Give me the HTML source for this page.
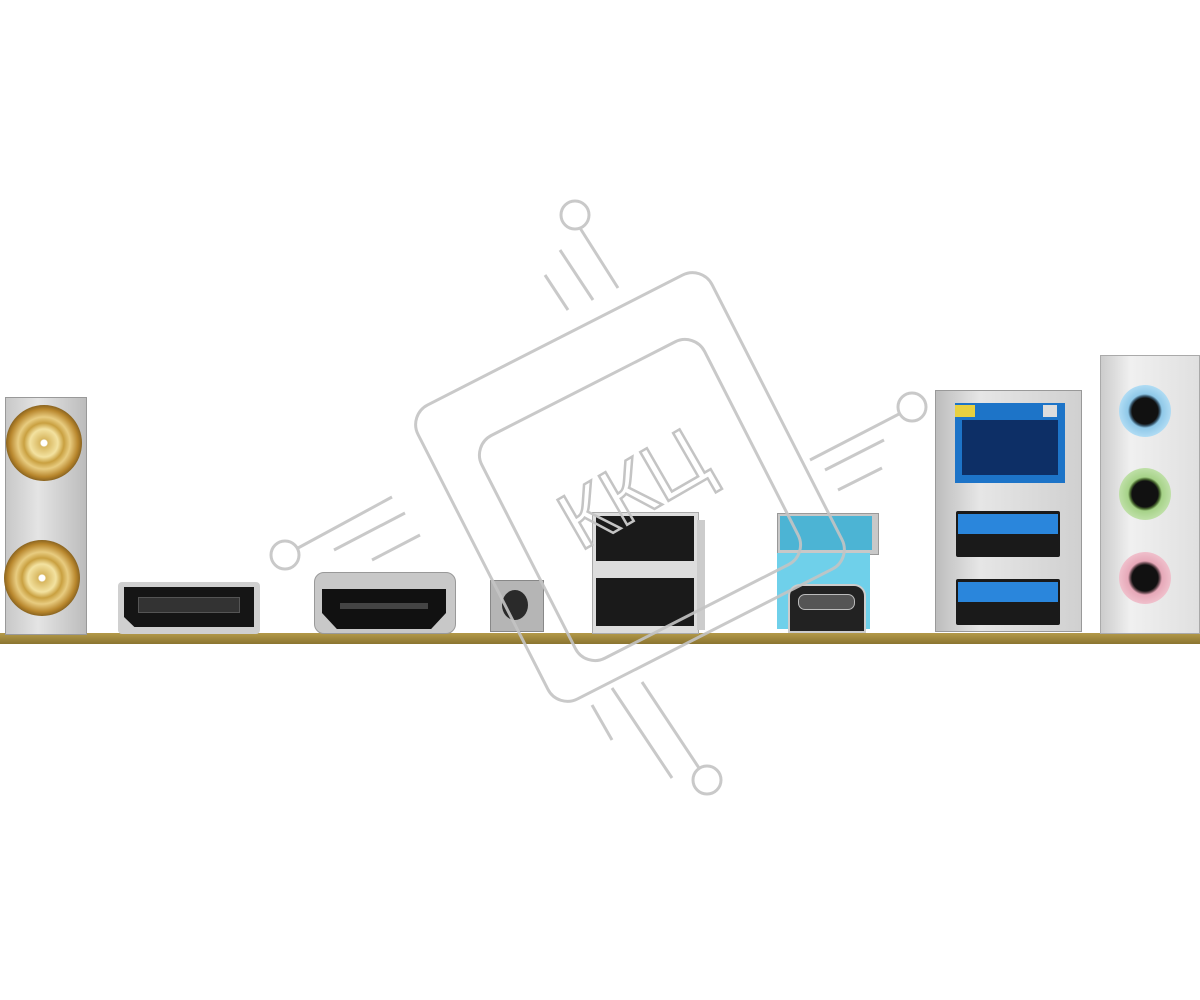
<!DOCTYPE html>
<html><head><meta charset="utf-8"><style>
body{margin:0;width:1200px;height:1000px;background:#fff;position:relative;overflow:hidden;font-family:"Liberation Sans",sans-serif}
.a{position:absolute}
</style></head><body>
<!-- board strip -->
<div class="a" style="left:0;top:633px;width:1200px;height:11px;background:linear-gradient(#b49a4a,#8a7430)"></div>
<!-- antenna bracket -->
<div class="a" style="left:5px;top:397px;width:80px;height:236px;background:linear-gradient(90deg,#c8c8c8,#e4e4e4 40%,#bcbcbc);border:1px solid #999"></div>
<div class="a" style="left:6px;top:405px;width:76px;height:76px;border-radius:50%;background:radial-gradient(circle,#fff 0 3px,#d8b760 4px,#f3e2a0 14px,#c9a040 20px,#e8cc80 26px,#b8862c 34px,#8a6420 38px)"></div>
<div class="a" style="left:4px;top:540px;width:76px;height:76px;border-radius:50%;background:radial-gradient(circle,#fff 0 3px,#d8b760 4px,#f3e2a0 14px,#c9a040 20px,#e8cc80 26px,#b8862c 34px,#8a6420 38px)"></div>
<!-- DisplayPort -->
<div class="a" style="left:118px;top:582px;width:142px;height:52px;background:#d0d0d0;border-radius:4px"></div>
<div class="a" style="left:124px;top:587px;width:130px;height:40px;background:#151515;clip-path:polygon(0 0,100% 0,100% 100%,8% 100%,0 75%)"></div>
<div class="a" style="left:138px;top:597px;width:100px;height:14px;background:#333;border:1px solid #555"></div>
<!-- HDMI -->
<div class="a" style="left:314px;top:572px;width:140px;height:60px;background:#c8c8c8;border-radius:10px;border:1px solid #999"></div>
<div class="a" style="left:322px;top:589px;width:124px;height:40px;background:#111;clip-path:polygon(0 0,100% 0,100% 60%,88% 100%,12% 100%,0 60%)"></div>
<div class="a" style="left:340px;top:603px;width:88px;height:6px;background:#444"></div>
<!-- button -->
<div class="a" style="left:490px;top:580px;width:52px;height:50px;background:#b5b5b5;border:1px solid #888"></div>
<div class="a" style="left:502px;top:590px;width:26px;height:30px;border-radius:50%;background:#2a2a2a"></div>
<!-- dual USB -->
<div class="a" style="left:592px;top:512px;width:105px;height:120px;background:#ddd;border:1px solid #aaa"></div>
<div class="a" style="left:596px;top:516px;width:98px;height:45px;background:#1a1a1a"></div>
<div class="a" style="left:596px;top:578px;width:98px;height:48px;background:#1a1a1a"></div>
<div class="a" style="left:697px;top:520px;width:8px;height:110px;background:#ccc"></div>
<!-- USB A blue + type C -->
<div class="a" style="left:777px;top:513px;width:100px;height:40px;background:#c8c8c8;border:1px solid #999"></div>
<div class="a" style="left:780px;top:516px;width:92px;height:34px;background:#4cb4d4"></div>
<div class="a" style="left:777px;top:553px;width:93px;height:76px;background:#6fd0ea"></div>
<div class="a" style="left:788px;top:584px;width:74px;height:45px;background:#222;border-radius:12px 12px 0 0;border:2px solid #ccc"></div>
<div class="a" style="left:798px;top:594px;width:55px;height:14px;border-radius:7px;background:#555;border:1px solid #bbb"></div>
<!-- LAN + USB -->
<div class="a" style="left:935px;top:390px;width:145px;height:240px;background:linear-gradient(90deg,#bdbdbd,#e6e6e6 30%,#d0d0d0);border:1px solid #999"></div>
<div class="a" style="left:955px;top:403px;width:110px;height:80px;background:#1d74c8"></div>
<div class="a" style="left:962px;top:420px;width:96px;height:55px;background:#0d2f66"></div>
<div class="a" style="left:955px;top:405px;width:20px;height:12px;background:#e8d040"></div>
<div class="a" style="left:1043px;top:405px;width:14px;height:12px;background:#ddd"></div>
<div class="a" style="left:956px;top:511px;width:104px;height:46px;background:#1a1a1a;border-radius:2px"></div>
<div class="a" style="left:958px;top:514px;width:100px;height:20px;background:#2a86dc"></div>
<div class="a" style="left:956px;top:579px;width:104px;height:46px;background:#1a1a1a;border-radius:2px"></div>
<div class="a" style="left:958px;top:582px;width:100px;height:20px;background:#2a86dc"></div>
<!-- audio -->
<div class="a" style="left:1100px;top:355px;width:98px;height:277px;background:linear-gradient(90deg,#ccc,#f0f0f0 30%,#e0e0e0);border:1px solid #aaa"></div>
<div class="a" style="left:1119px;top:385px;width:52px;height:52px;border-radius:50%;background:radial-gradient(circle,#111 0 13px,#3a5a70 15px,#8fc8e8 17px,#b0dcf4 26px)"></div>
<div class="a" style="left:1119px;top:468px;width:52px;height:52px;border-radius:50%;background:radial-gradient(circle,#111 0 13px,#4a6a30 15px,#a6d288 17px,#bfe0a8 26px)"></div>
<div class="a" style="left:1119px;top:552px;width:52px;height:52px;border-radius:50%;background:radial-gradient(circle,#111 0 13px,#705058 15px,#e6a8b8 17px,#f0c0cc 26px)"></div>
<!-- watermark -->
<svg class="a" style="left:0;top:0" width="1200" height="1000">
<g fill="none" stroke="#c4c4c4" stroke-width="3" opacity="0.9">
<rect x="465" y="322" width="330" height="330" rx="22" transform="rotate(-27 630 487)"/>
<rect x="515" y="375" width="250" height="250" rx="22" transform="rotate(-27 640 500)"/>
<circle cx="575" cy="215" r="14"/><circle cx="285" cy="555" r="14"/>
<circle cx="912" cy="407" r="14"/><circle cx="707" cy="780" r="14"/>
<line x1="580" y1="228" x2="618" y2="288"/><line x1="560" y1="250" x2="593" y2="300"/><line x1="545" y1="275" x2="568" y2="310"/>
<line x1="298" y1="548" x2="392" y2="497"/><line x1="334" y1="550" x2="405" y2="513"/><line x1="372" y1="560" x2="420" y2="535"/>
<line x1="899" y1="414" x2="810" y2="460"/><line x1="884" y1="440" x2="825" y2="470"/><line x1="882" y1="468" x2="838" y2="490"/>
<line x1="699" y1="768" x2="642" y2="682"/><line x1="672" y1="778" x2="612" y2="688"/><line x1="612" y1="740" x2="592" y2="705"/>
</g>
<text x="640" y="515" font-size="82" fill="none" stroke="#c4c4c4" stroke-width="2.5" font-family="Liberation Sans,sans-serif" text-anchor="middle" transform="rotate(-30 640 500)">ККЦ</text>
</svg>
</body></html>
